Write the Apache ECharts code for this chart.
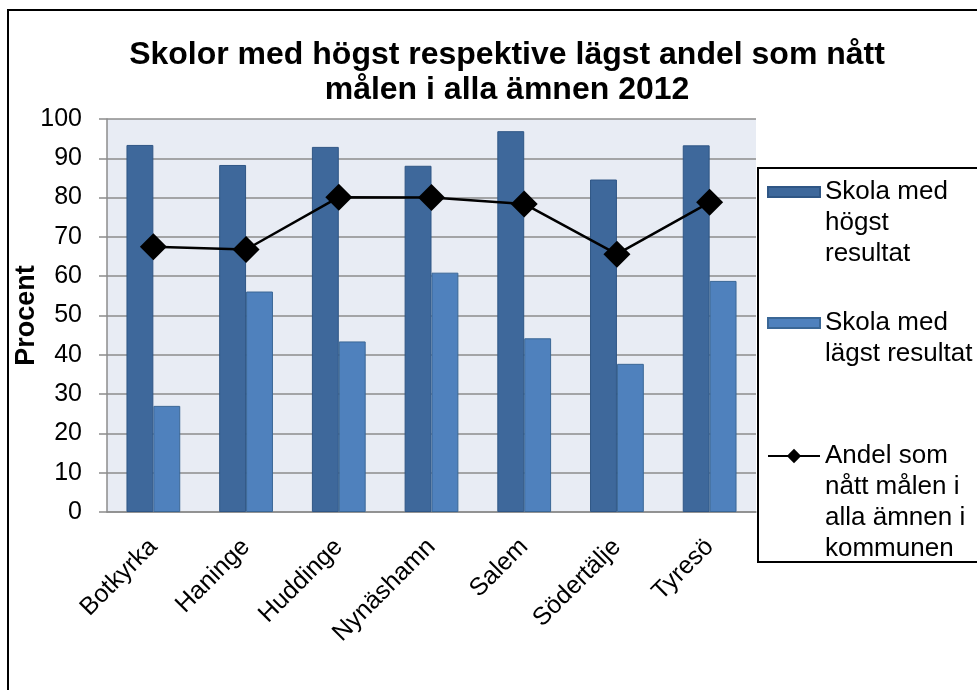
<!DOCTYPE html>
<html>
<head>
<meta charset="utf-8">
<script src="https://cdn.jsdelivr.net/npm/echarts@6/dist/echarts.min.js"></script>
<style>
  html, body { margin: 0; padding: 0; background: #fff; }
  #chart { width: 977px; height: 690px; }
</style>
</head>
<body>
<div id="chart"></div>
<script>
// data
const kommuner = ['Botkyrka', 'Haninge', 'Huddinge', 'Nynäshamn', 'Salem', 'Södertälje', 'Tyresö'];
const hogst = [93.4, 88.3, 92.9, 88.1, 96.9, 84.6, 93.3];
const lagst = [27.0, 56.1, 43.4, 60.9, 44.2, 37.7, 58.8];
const andel = [67.5, 66.8, 80.1, 80.0, 78.4, 65.6, 78.8];
const yTicks = [0, 10, 20, 30, 40, 50, 60, 70, 80, 90, 100];

const names = ['Skola med högst resultat', 'Skola med lägst resultat', 'Andel som nått målen i alla ämnen i kommunen'];
// legend text, with blank lines in front so the icon sits at the first line
const legendText = {};
legendText[names[0]] = '\n\nSkola med\nhögst\nresultat';
legendText[names[1]] = '\nSkola med\nlägst resultat';
legendText[names[2]] = '\n\n\nAndel som\nnått målen i\nalla ämnen i\nkommunen';

const font = 'Liberation Sans, Arial, sans-serif';
const LH = 31;

const myChart = echarts.init(document.getElementById('chart'));

function legendFor(name, top, icon, h) {
  return {
    data: [name],
    left: 767,
    top: top,
    padding: 0,
    icon: icon,
    itemWidth: 52,
    itemHeight: h,
    itemGap: 6,
    z: 20,
    selectedMode: false,
    formatter: n => legendText[n],
    textStyle: { fontFamily: font, fontSize: 26, color: '#000', lineHeight: LH }
  };
}

const option = {
  animation: false,
  backgroundColor: '#fff',
  title: {
    text: 'Skolor med högst respektive lägst andel som nått\nmålen i alla ämnen 2012',
    left: 502,
    top: 33,
    textAlign: 'center',
    textStyle: { fontFamily: font, fontSize: 32, fontWeight: 'bold', color: '#000', lineHeight: 35 }
  },
  graphic: [
    { type: 'rect', shape: { x: 8, y: 10, width: 1000, height: 700 },
      style: { fill: 'none', stroke: '#000', lineWidth: 2 }, z: -10 },
    { type: 'rect', shape: { x: 758, y: 168, width: 260, height: 394 },
      style: { fill: '#fff', stroke: '#000', lineWidth: 2 }, z: 1 }
  ],
  legend: [
    legendFor(names[0], 192 - 5 * LH / 2, 'rect', 10),
    legendFor(names[1], 323 - 3 * LH / 2, 'rect', 10),
    legendFor(names[2], 456 - 7 * LH / 2, null, 18)
  ],
  grid: {
    left: 107, top: 119, right: 221, bottom: 178,
    outerBoundsMode: 'none',
    containLabel: false,
    show: true, backgroundColor: '#E8ECF4', borderWidth: 0
  },
  xAxis: {
    type: 'category',
    data: kommuner,
    axisLine: { lineStyle: { color: '#8C8C8C', width: 1.5 } },
    axisTick: { show: false },
    axisLabel: {
      rotate: 45, interval: 0, margin: 31,
      fontFamily: font, fontSize: 25, color: '#000'
    }
  },
  yAxis: {
    type: 'value',
    min: 0, max: 100, interval: 10,
    name: 'Procent',
    nameLocation: 'middle',
    nameGap: 67,
    nameMoveOverlap: false,
    nameTextStyle: { fontFamily: font, fontSize: 27, fontWeight: 'bold', color: '#000' },
    axisLine: { show: true, lineStyle: { color: '#8C8C8C', width: 1.5 } },
    axisTick: { show: true, length: 8, lineStyle: { color: '#8C8C8C', width: 1.5 } },
    axisLabel: {
      margin: 25, fontFamily: font, fontSize: 25, color: '#000',
      formatter: v => yTicks.indexOf(v) >= 0 ? String(v) : ''
    },
    splitLine: { lineStyle: { color: '#8C8C8C', width: 1.5 } }
  },
  series: [
    {
      name: names[0], type: 'bar', data: hogst,
      barGap: '0%', barCategoryGap: '42%',
      itemStyle: { color: '#3E689B', borderColor: '#2F5685', borderWidth: 1 }
    },
    {
      name: names[1], type: 'bar', data: lagst,
      itemStyle: { color: '#4F81BD', borderColor: '#3A6796', borderWidth: 1 }
    },
    {
      name: names[2], type: 'line', data: andel,
      symbol: 'diamond', symbolSize: 27,
      lineStyle: { color: '#000', width: 2.5 },
      itemStyle: { color: '#000' },
      z: 10
    }
  ]
};
myChart.setOption(option);

window.addEventListener('resize', () => {
  myChart.resize();
});
</script>
</body>
</html>
